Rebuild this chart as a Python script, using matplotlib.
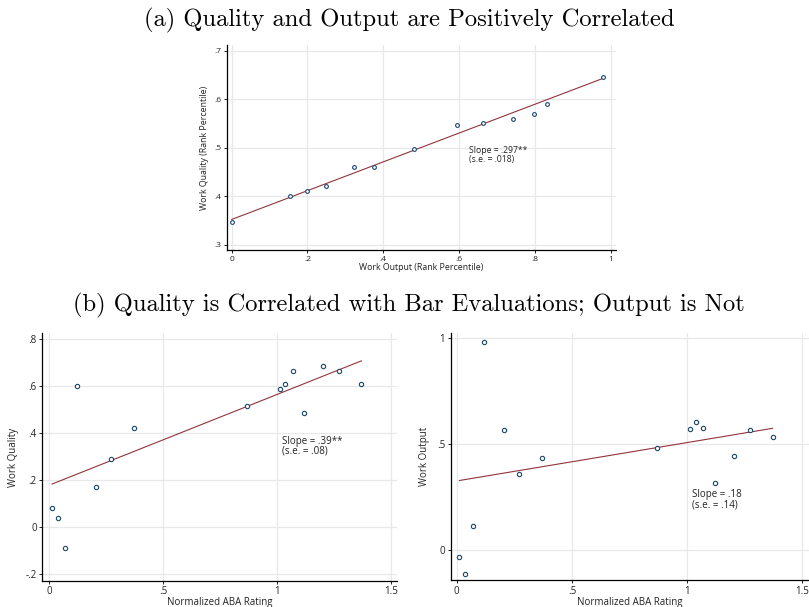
import matplotlib
matplotlib.use("Agg")
import matplotlib.pyplot as plt
import numpy as np

# ---------------- data ----------------
# Panel (a): binned work output vs. work quality (rank percentiles)
a_x = [0.000, 0.154, 0.200, 0.248, 0.324, 0.375, 0.480, 0.595, 0.664, 0.741, 0.797, 0.832, 0.979]
a_y = [0.347, 0.400, 0.411, 0.420, 0.461, 0.460, 0.498, 0.547, 0.551, 0.560, 0.569, 0.590, 0.645]
a_fit = (0.352, 0.297)  # intercept, slope

# Panel (b): normalized ABA rating bins
b_x = [0.012, 0.036, 0.070, 0.120, 0.204, 0.271, 0.370, 0.870, 1.014, 1.037, 1.070, 1.121, 1.204, 1.271, 1.371]
b_quality = [0.082, 0.038, -0.087, 0.597, 0.171, 0.289, 0.419, 0.514, 0.586, 0.609, 0.664, 0.486, 0.685, 0.664, 0.609]
b_output = [-0.031, -0.110, 0.113, 0.984, 0.566, 0.360, 0.435, 0.484, 0.571, 0.604, 0.579, 0.318, 0.443, 0.568, 0.535]
bq_fit = (0.178, 0.385)
bo_fit = (0.327, 0.181)

a_xticks = [0, 0.2, 0.4, 0.6, 0.8, 1.0]
a_xticklabels = ["0", ".2", ".4", ".6", ".8", "1"]
a_yticks = [0.3, 0.4, 0.5, 0.6, 0.7]
a_yticklabels = [".3", ".4", ".5", ".6", ".7"]
b_xticks = [0, 0.5, 1.0, 1.5]
b_xticklabels = ["0", ".5", "1", "1.5"]
bq_yticks = [-0.2, 0, 0.2, 0.4, 0.6, 0.8]
bq_yticklabels = ["-.2", "0", ".2", ".4", ".6", ".8"]
bo_yticks = [0, 0.5, 1.0]
bo_yticklabels = ["0", ".5", "1"]

title_a = "(a) Quality and Output are Positively Correlated"
title_b = "(b) Quality is Correlated with Bar Evaluations; Output is Not"

# ---------------- style ----------------
NAVY = "#1a476f"
MAROON = "#90353b"
GRID = "#e8e8e8"
TXT = "#222222"
plt.rcParams["font.family"] = ["Open Sans", "DejaVu Sans"]

W, H = 809, 607
fig = plt.figure(figsize=(W / 100, H / 100), dpi=100)


def px_axes(l, r, t, b):
    return fig.add_axes([l / W, (H - b) / H, (r - l) / W, (b - t) / H])


def style(ax, fs, xt, xtl, yt, ytl, xlim, ylim):
    ax.set_xlim(*xlim)
    ax.set_ylim(*ylim)
    ax.set_xticks(xt)
    ax.set_xticklabels(xtl)
    ax.set_yticks(yt)
    ax.set_yticklabels(ytl)
    for s in ["top", "right"]:
        ax.spines[s].set_visible(False)
    for s in ["left", "bottom"]:
        ax.spines[s].set_color("black")
        ax.spines[s].set_linewidth(0.9)
    ax.tick_params(direction="out", length=2.5, width=0.7, colors=TXT,
                   labelsize=fs, pad=1.5)
    ax.grid(True, color=GRID, linewidth=0.9)
    ax.set_axisbelow(True)


def scatter_fit(ax, x, y, fit, ms):
    ax.plot(x, y, linestyle="none", marker="o", markersize=ms,
            markerfacecolor="white", markeredgecolor=NAVY, markeredgewidth=0.8,
            zorder=3)
    xs = np.array([min(x), max(x)])
    ax.plot(xs, fit[0] + fit[1] * xs, color=MAROON, linewidth=0.8, zorder=2)


# Panel (a)
ax1 = px_axes(227, 616, 45, 250)
style(ax1, 6.0, a_xticks, a_xticklabels, a_yticks, a_yticklabels,
      (-0.0124, 1.014), (0.289, 0.7118))
scatter_fit(ax1, a_x, a_y, a_fit, 2.7)
ax1.set_xlabel("Work Output (Rank Percentile)", fontsize=6.3, color=TXT, labelpad=0.3)
ax1.set_ylabel("Work Quality (Rank Percentile)", fontsize=6.3, color=TXT, labelpad=3.5)
ax1.text(0.625, 0.485, "Slope = .297**\n(s.e. = .018)", fontsize=6.2, color=TXT,
         va="center", ha="left", linespacing=0.9)

# Panel (b) left
ax2 = px_axes(42.3, 397.3, 333.3, 580.7)
style(ax2, 7, b_xticks, b_xticklabels, bq_yticks, bq_yticklabels,
      (-0.031, 1.529), (-0.228, 0.823))
scatter_fit(ax2, b_x, b_quality, bq_fit, 3.1)
ax2.set_xlabel("Normalized ABA Rating", fontsize=7, color=TXT, labelpad=0)
ax2.set_ylabel("Work Quality", fontsize=7, color=TXT, labelpad=5)
ax2.text(1.023, 0.343, "Slope = .39**\n(s.e. = .08)", fontsize=7, color=TXT,
         va="center", ha="left", linespacing=0.9)

# Panel (b) right
ax3 = px_axes(450.7, 809, 332.7, 580)
style(ax3, 7, b_xticks, b_xticklabels, bo_yticks, bo_yticklabels,
      (-0.026, 1.529), (-0.14, 1.026))
scatter_fit(ax3, b_x, b_output, bo_fit, 3.1)
ax3.set_xlabel("Normalized ABA Rating", fontsize=7, color=TXT, labelpad=0)
ax3.set_ylabel("Work Output", fontsize=7, color=TXT, labelpad=5)
ax3.text(1.02, 0.238, "Slope = .18\n(s.e. = .14)", fontsize=7, color=TXT,
         va="center", ha="left", linespacing=0.9)

fig.text(409 / W, 1 - 26.5 / H, title_a, family="cmr10", fontsize=17.7,
         ha="center", va="baseline", color="black")
fig.text(409 / W, 1 - 311.5 / H, title_b, family="cmr10", fontsize=17.7,
         ha="center", va="baseline", color="black")

fig.savefig("out.png", dpi=100)
